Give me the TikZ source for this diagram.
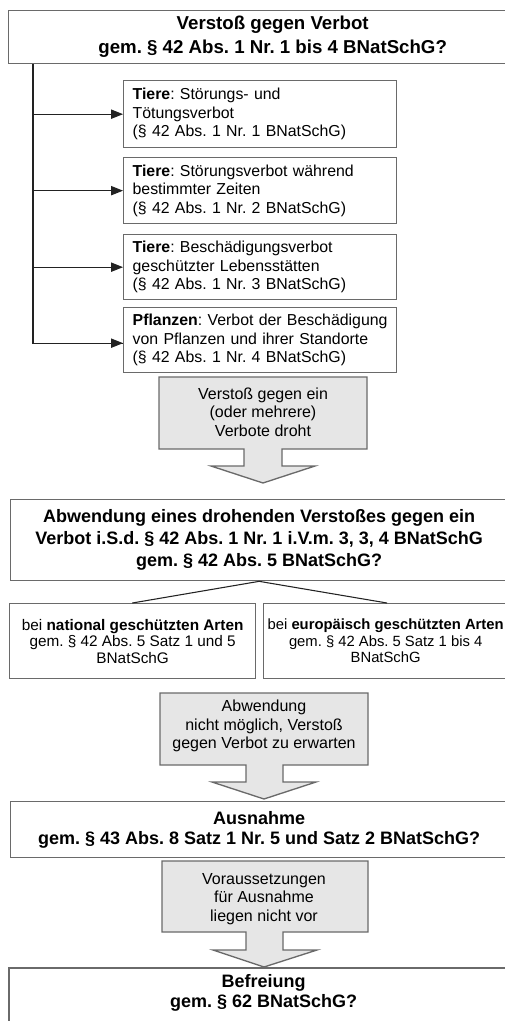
\documentclass[tikz,border=0pt]{standalone}
\usepackage{fontspec}
\setmainfont{Liberation Sans}
\usetikzlibrary{arrows.meta}
\definecolor{bordergray}{HTML}{6A6A6A}
\definecolor{fillgray}{HTML}{E6E6E6}
\definecolor{linecol}{HTML}{222222}
\begin{document}
\frenchspacing
\begin{tikzpicture}[x=0.75pt,y=-0.75pt,
  frame/.style={draw=bordergray, line width=1pt},
  box/.style={frame, fill=white, inner sep=0pt, anchor=north west, align=center},
  titletxt/.style={font=\fontsize{14}{18}\selectfont\bfseries},
  bigtxt/.style={font=\fontsize{13.5}{16.5}\selectfont\bfseries},
  lowtxt/.style={font=\fontsize{13.5}{15}\selectfont\bfseries},
  smallbox/.style={box, align=left, inner xsep=6.75pt, text width=191.25pt,
     minimum height=#1*0.75pt, font=\fontsize{11.9}{13.9}\selectfont},
  subbox/.style={box, font=\fontsize{#1}{12.4}\selectfont},
  graytxt/.style={inner sep=0pt, align=center, font=\fontsize{12}{13.9}\selectfont},
  grayarrow/.style={draw=bordergray, line width=1pt, fill=fillgray},
  conn/.style={draw=linecol, line width=0.8pt},
  branch/.style={conn, -{Triangle[length=9pt,width=7pt]}},
]
\useasboundingbox (0,0) rectangle (505,1021);
\clip (0,0) rectangle (505,1021);

% top box
\node[box, titletxt, minimum width=528*0.75pt, minimum height=53*0.75pt] (top) at (8,10)
  {Verstoß gegen Verbot\\gem. § 42 Abs. 1 Nr. 1 bis 4 BNatSchG?};

% four prohibition boxes
\node[smallbox=67] (t1) at (123,80)
  {\mbox{\textbf{Tiere}: Störungs- und}\\\mbox{Tötungsverbot}\\\mbox{(§ 42 Abs. 1 Nr. 1 BNatSchG)}};
\node[smallbox=66] (t2) at (123,157)
  {\mbox{\textbf{Tiere}: Störungsverbot während}\\\mbox{bestimmter Zeiten}\\\mbox{(§ 42 Abs. 1 Nr. 2 BNatSchG)}};
\node[smallbox=65] (t3) at (123,234)
  {\mbox{\textbf{Tiere}: Beschädigungsverbot}\\\mbox{geschützter Lebensstätten}\\\mbox{(§ 42 Abs. 1 Nr. 3 BNatSchG)}};
\node[smallbox=65] (t4) at (123,307)
  {\mbox{\textbf{Pflanzen}: Verbot der Beschädigung}\\\mbox{von Pflanzen und ihrer Standorte}\\\mbox{(§ 42 Abs. 1 Nr. 4 BNatSchG)}};

% branch connectors
\coordinate (br) at ([xshift=25*0.75pt]top.south west);
\draw[conn] (br) |- ([yshift=-3*0.75pt]t4.west);
\draw[branch] (br |- t1.west) -- (t1.west);
\draw[branch] (br |- t2.west) -- (t2.west);
\draw[branch] (br |- t3.west) -- (t3.west);
\draw[branch] ([yshift=-3*0.75pt]br |- t4.west) -- ([yshift=-3*0.75pt]t4.west);

% gray arrow 1
\filldraw[grayarrow] (159,377) -- (367,377) -- (367,449) -- (282,449) -- (282,466) -- (315,466)
  -- (263,483) -- (211,466) -- (244,466) -- (244,449) -- (159,449) -- cycle;
\node[graytxt] (g1) at (263,412) {Verstoß gegen ein\\(oder mehrere)\\Verbote droht};

% Abwendung box
\node[box, bigtxt, minimum width=497*0.75pt, minimum height=81*0.75pt] (abw) at (10,499)
  {Abwendung eines drohenden Verstoßes gegen ein\\Verbot i.S.d. § 42 Abs. 1 Nr. 1 i.V.m. 3, 3, 4 BNatSchG\\gem. § 42 Abs. 5 BNatSchG?};

% sub boxes
\node[subbox=11.5, minimum width=246*0.75pt, minimum height=75*0.75pt] (nat) at (9,603)
  {bei \textbf{national geschützten Arten}\\gem. § 42 Abs. 5 Satz 1 und 5\\BNatSchG};
\node[subbox=11.1, minimum width=244*0.75pt, minimum height=75*0.75pt] (eur) at (263,603)
  {bei \textbf{europäisch geschützten Arten}\\gem. § 42 Abs. 5 Satz 1 bis 4\\BNatSchG};
\draw[conn] (abw.south) -- ([xshift=-124*0.75pt]nat.north east);
\draw[conn] (abw.south) -- ([xshift=124*0.75pt]eur.north west);

% gray arrow 2
\filldraw[grayarrow] (160,693) -- (368,693) -- (368,765) -- (283,765) -- (283,782) -- (316,782)
  -- (264,799) -- (212,782) -- (246,782) -- (246,765) -- (160,765) -- cycle;
\node[graytxt] (g2) at (264,726) {Abwendung\\nicht möglich, Verstoß\\gegen Verbot zu erwarten};

% Ausnahme box
\node[box, lowtxt, minimum width=497*0.75pt, minimum height=56*0.75pt] (aus) at (10,801)
  {Ausnahme\\gem. § 43 Abs. 8 Satz 1 Nr. 5 und Satz 2 BNatSchG?};

% gray arrow 3
\filldraw[grayarrow] (162,861) -- (368,861) -- (368,932) -- (283,932) -- (283,950) -- (317,950)
  -- (264,967) -- (213,950) -- (246,950) -- (246,932) -- (162,932) -- cycle;
\node[graytxt] (g3) at (264,899) {Voraussetzungen\\für Ausnahme\\liegen nicht vor};

% Befreiung box (runs past the lower and right edges)
\node[box, lowtxt, draw=none, fill=none, minimum width=508*0.75pt, minimum height=48*0.75pt] (bef) at (9,968)
  {Befreiung\\gem. § 62 BNatSchG?};
\draw[frame] ([yshift=-20pt]bef.south west) -- (bef.north west) -- ([xshift=20pt]bef.north east);
\end{tikzpicture}
\end{document}
